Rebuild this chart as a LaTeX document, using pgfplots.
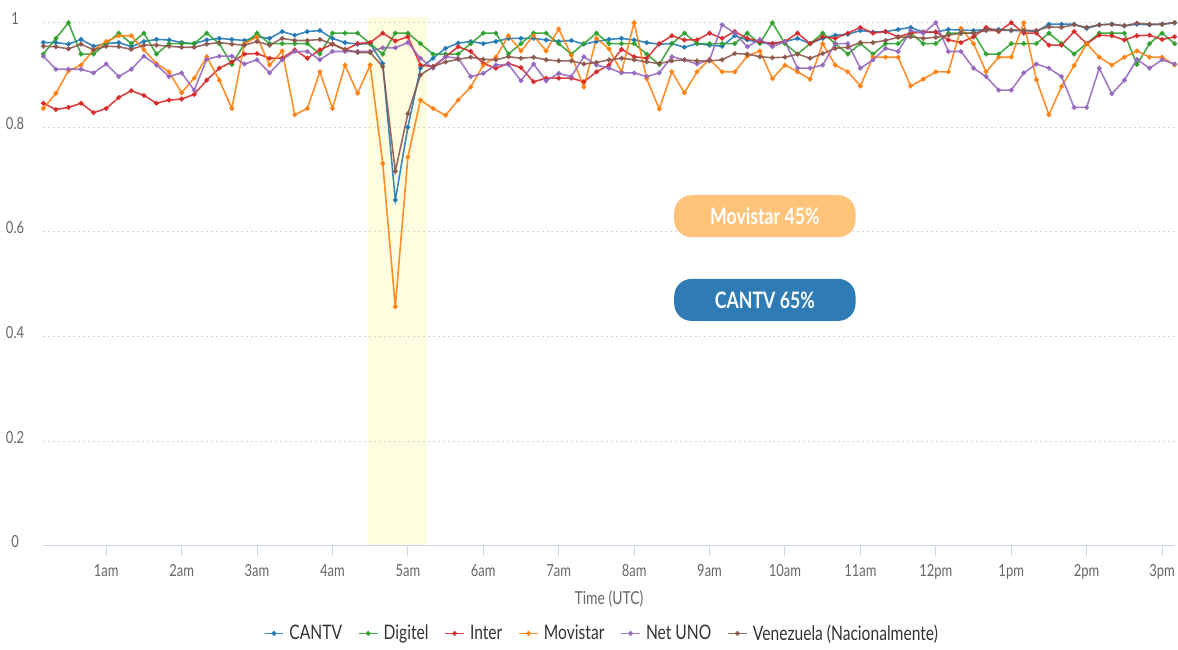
\documentclass[border=0pt]{standalone}
\usepackage{fontspec}
\setmainfont{Lato}[FakeStretch=0.78]
\usepackage{pgfplots}
\pgfplotsset{compat=1.18}
\usepackage{pgfplotstable}
\definecolor{cantv}{HTML}{1F77B4}
\definecolor{digitel}{HTML}{2CA02C}
\definecolor{inter}{HTML}{D62728}
\definecolor{movistar}{HTML}{FF7F0E}
\definecolor{netuno}{HTML}{9467BD}
\definecolor{vzla}{HTML}{8C564B}
\definecolor{axisc}{HTML}{CCD6EB}
\definecolor{labelc}{HTML}{666666}
\definecolor{legc}{HTML}{333333}
\definecolor{gridc}{HTML}{D8D8D8}
\definecolor{bandc}{HTML}{FFFDE0}
\definecolor{movbox}{HTML}{FFC47A}
\definecolor{cantvbox}{HTML}{2E7BB5}

\pgfplotstableread{
t c d i m n v
10 0.962 0.94 0.846 0.836 0.936 0.955
20 0.962 0.97 0.834 0.865 0.911 0.954
30 0.959 1.00 0.838 0.908 0.911 0.950
40 0.968 0.94 0.846 0.919 0.911 0.959
50 0.955 0.94 0.828 0.948 0.904 0.948
60 0.960 0.96 0.836 0.964 0.921 0.955
70 0.962 0.98 0.857 0.975 0.897 0.954
80 0.954 0.96 0.870 0.975 0.911 0.949
90 0.964 0.98 0.861 0.948 0.936 0.957
100 0.968 0.94 0.846 0.922 0.919 0.957
110 0.967 0.96 0.852 0.906 0.897 0.955
120 0.962 0.96 0.854 0.866 0.904 0.953
130 0.960 0.96 0.863 0.894 0.871 0.953
140 0.967 0.98 0.890 0.935 0.930 0.959
150 0.970 0.96 0.913 0.890 0.936 0.962
160 0.968 0.92 0.925 0.836 0.936 0.959
170 0.966 0.96 0.940 0.960 0.921 0.957
180 0.973 0.98 0.941 0.973 0.929 0.964
190 0.970 0.96 0.932 0.919 0.904 0.957
200 0.983 0.96 0.932 0.946 0.929 0.970
210 0.976 0.96 0.948 0.824 0.945 0.966
220 0.983 0.96 0.932 0.836 0.945 0.966
230 0.985 0.94 0.948 0.906 0.929 0.968
240 0.970 0.98 0.959 0.836 0.945 0.959
250 0.962 0.98 0.948 0.919 0.945 0.949
260 0.959 0.98 0.960 0.865 0.945 0.943
270 0.960 0.96 0.962 0.919 0.945 0.943
280 0.922 0.94 0.980 0.731 0.952 0.916
290 0.661 0.98 0.965 0.457 0.952 0.716
300 0.800 0.98 0.973 0.743 0.962 0.826
310 0.913 0.96 0.919 0.852 0.932 0.900
320 0.932 0.94 0.916 0.836 0.913 0.916
330 0.951 0.94 0.935 0.823 0.935 0.925
340 0.961 0.94 0.954 0.852 0.932 0.930
350 0.964 0.96 0.945 0.877 0.897 0.934
360 0.960 0.98 0.922 0.919 0.903 0.930
370 0.964 0.98 0.913 0.934 0.919 0.929
380 0.970 0.94 0.922 0.975 0.920 0.935
390 0.970 0.96 0.914 0.946 0.889 0.932
400 0.970 0.98 0.887 0.975 0.921 0.934
410 0.967 0.98 0.894 0.946 0.889 0.929
420 0.964 0.96 0.894 0.988 0.903 0.927
430 0.966 0.94 0.894 0.938 0.897 0.927
440 0.959 0.96 0.887 0.877 0.935 0.921
450 0.964 0.98 0.906 0.970 0.919 0.924
460 0.968 0.96 0.919 0.950 0.913 0.929
470 0.970 0.96 0.949 0.906 0.904 0.932
480 0.967 0.96 0.935 1.000 0.904 0.929
490 0.962 0.94 0.932 0.893 0.897 0.925
500 0.959 0.92 0.960 0.835 0.904 0.922
510 0.960 0.96 0.975 0.906 0.935 0.927
520 0.953 0.98 0.967 0.866 0.929 0.929
530 0.960 0.96 0.967 0.906 0.921 0.927
540 0.957 0.96 0.980 0.930 0.929 0.927
550 0.955 0.96 0.970 0.906 0.996 0.929
560 0.975 0.96 0.983 0.906 0.980 0.941
570 0.967 0.98 0.970 0.936 0.954 0.940
580 0.962 0.96 0.964 0.946 0.968 0.935
590 0.960 1.00 0.960 0.893 0.954 0.933
600 0.964 0.96 0.964 0.919 0.964 0.934
610 0.970 0.94 0.980 0.906 0.913 0.940
620 0.960 0.96 0.960 0.892 0.913 0.932
630 0.970 0.98 0.973 0.960 0.919 0.941
640 0.976 0.96 0.970 0.919 0.960 0.951
650 0.978 0.94 0.980 0.906 0.960 0.953
660 0.985 0.96 0.991 0.879 0.913 0.962
670 0.982 0.94 0.980 0.934 0.929 0.962
680 0.983 0.96 0.983 0.934 0.951 0.966
690 0.987 0.96 0.973 0.934 0.945 0.972
700 0.991 0.98 0.980 0.879 0.985 0.973
710 0.982 0.96 0.982 0.892 0.980 0.970
720 0.982 0.96 0.982 0.906 1.000 0.972
730 0.987 0.98 0.967 0.906 0.945 0.976
740 0.986 0.98 0.962 0.989 0.945 0.980
750 0.985 0.98 0.973 0.960 0.913 0.980
760 0.987 0.94 0.991 0.906 0.897 0.985
770 0.987 0.94 0.983 0.934 0.871 0.985
780 0.985 0.96 1.000 0.934 0.871 0.986
790 0.985 0.96 0.980 1.000 0.904 0.985
800 0.983 0.96 0.980 0.891 0.921 0.985
810 0.997 0.98 0.957 0.824 0.913 0.992
820 0.997 0.96 0.957 0.878 0.897 0.991
830 0.997 0.94 0.983 0.918 0.838 0.996
840 0.989 0.96 0.960 0.960 0.838 0.991
850 0.996 0.98 0.976 0.934 0.913 0.996
860 0.997 0.98 0.975 0.919 0.864 0.997
870 0.994 0.98 0.967 0.934 0.890 0.994
880 0.997 0.92 0.975 0.946 0.930 0.999
890 0.996 0.96 0.976 0.934 0.913 0.997
900 0.997 0.98 0.968 0.934 0.929 0.997
910 1.000 0.96 0.973 0.919 0.921 1.000
}\data

\begin{document}
\begin{tikzpicture}
\begin{axis}[
  set layers,
  scale only axis, width=848.5pt, height=396.2pt,
  xmin=10, xmax=910, ymin=0, ymax=1.01,
  axis x line*=bottom, axis y line*=left,
  x axis line style={-, draw=axisc, line width=0.9pt},
  y axis line style={draw=none},
  xtick={60,120,180,240,300,360,420,480,540,600,660,720,780,840,900},
  xticklabels={1am,2am,3am,4am,5am,6am,7am,8am,9am,10am,11am,12pm,1pm,2pm,3pm},
  ytick={0,0.2,0.4,0.6,0.8,1},
  yticklabels={0,0.2,0.4,0.6,0.8,1},
  tick align=outside,
  major tick length=7.5pt,
  xtick style={draw=axisc, line width=0.75pt},
  ytick style={draw=none},
  ymajorgrids,
  major grid style={draw=gridc, line width=0.8pt, dash pattern=on 1.5pt off 2.2pt},
  tick label style={font=\fontsize{12.5}{14}\selectfont, text=labelc},
  xticklabel style={yshift=-3pt},
  yticklabel style={anchor=east, text width=16pt, align=center, inner sep=0pt, xshift=-5.5pt, yshift=3pt},
  xlabel={Time (UTC)},
  xlabel style={at={(axis description cs:0.5,0)}, anchor=center, yshift=-39.5pt, font=\fontsize{13.4}{15}\selectfont, text=labelc},
  every axis plot/.append style={line width=1.2pt, mark=*, mark size=1.2pt, opacity=0.88},
  legend style={at={(0.494,-0.166)}, anchor=center, draw=none, fill=none,
    font=\fontsize{15}{17}\selectfont, text=legc, legend columns=-1,
    /tikz/every even column/.append style={column sep=10pt}},
  legend image code/.code={\draw[mark repeat=2,mark phase=2] plot coordinates {(0pt,0pt) (7pt,0pt) (14pt,0pt)};},
]
\begin{pgfonlayer}{axis background}
\fill[bandc] (axis cs:268.3,0) rectangle (axis cs:315.3,1.01);
\end{pgfonlayer}
\addplot[color=cantv] table[x=t,y=c] {\data};
\addlegendentry{\hspace{2pt}CANTV}
\addplot[color=digitel] table[x=t,y=d] {\data};
\addlegendentry{\hspace{2pt}Digitel}
\addplot[color=inter] table[x=t,y=i] {\data};
\addlegendentry{\hspace{2pt}Inter}
\addplot[color=movistar] table[x=t,y=m] {\data};
\addlegendentry{\hspace{2pt}Movistar}
\addplot[color=netuno] table[x=t,y=n] {\data};
\addlegendentry{\hspace{2pt}Net UNO}
\addplot[color=vzla] table[x=t,y=v] {\data};
\addlegendentry{\hspace{2pt}Venezuela (Nacionalmente)}
\node[fill=movbox, text=white, rounded corners=13pt, minimum width=136pt, minimum height=31.5pt, inner sep=0pt, font=\bfseries\fontsize{17}{19}\selectfont] at (axis cs:584,0.630) {Movistar 45\%};
\node[fill=cantvbox, text=white, rounded corners=13pt, minimum width=136pt, minimum height=31.5pt, inner sep=0pt, font=\bfseries\fontsize{17}{19}\selectfont] at (axis cs:584,0.470) {CANTV 65\%};
\end{axis}
\pgfresetboundingbox
\path (-32.5pt,-77.5pt) rectangle (851pt,409.3pt);
\end{tikzpicture}
\end{document}
